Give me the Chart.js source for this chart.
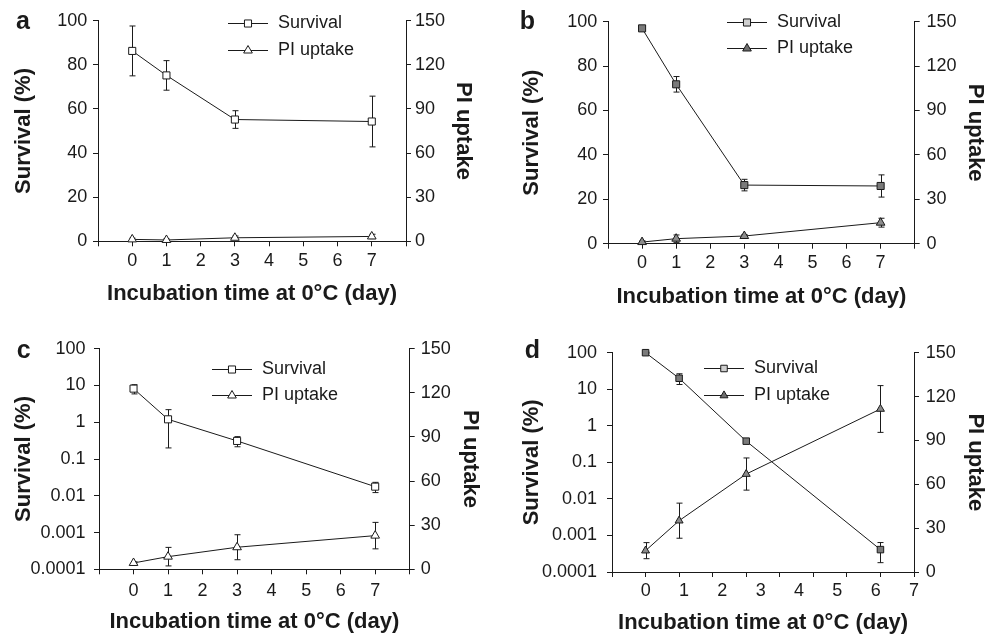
<!DOCTYPE html>
<html lang="en">
<head>
<meta charset="UTF-8">
<title>Survival and PI uptake at 0°C</title>
<script src="https://cdn.jsdelivr.net/npm/chart.js@4.4.0/dist/chart.umd.min.js"></script>
<style>
  body { margin: 0; background: #fff; }
  .wrap { position: relative; width: 986px; height: 636px; overflow: hidden; }
  canvas { position: absolute; }
</style>
</head>
<body>
<div class="wrap">
  <canvas id="pa" width="493" height="318" style="left:0;top:0"></canvas>
  <canvas id="pb" width="493" height="318" style="left:493px;top:0"></canvas>
  <canvas id="pc" width="493" height="318" style="left:0;top:318px"></canvas>
  <canvas id="pd" width="493" height="318" style="left:493px;top:318px"></canvas>
</div>
<script>
// days sampled (all panels)
const days = [0, 1, 3, 7];

// tick labels
const dayTicks = [0, 1, 2, 3, 4, 5, 6, 7];
const survLinTicks = [0, 20, 40, 60, 80, 100];
const survLogTicks = [0.0001, 0.001, 0.01, 0.1, 1, 10, 100];
const piTicks = [0, 30, 60, 90, 120, 150];

// panel a
const survA = [86.3, 75.2, 55.2, 54.3];
const survAErr = [11.3, 6.7, 4, 11.5];
const piA = [1.3, 0.9, 2.4, 3.3];
const piAErr = [0.8, 0.8, 1.2, 1.5];

// panel b
const survB = [97, 71.8, 26.4, 26];
const survBErr = [1, 3.5, 2.6, 5];
const piB = [1.1, 3.4, 5.2, 14.2];
const piBErr = [0.8, 2.5, 1, 3];

// panel c (log survival)
const survC = [8.2, 1.2, 0.31, 0.0177];
const survCErr = [2.3, 1.0, 0.095, 0.0055];
const piC = [4.3, 8.6, 15, 22.9];
const piCErr = [0.8, 6.3, 8.5, 9];

// panel d (log survival)
const survD = [100, 20, 0.38, 0.00041];
const survDErr = [3, 6.5, 0.03, 0.00023];
const piD = [14.6, 35.1, 67, 111.5];
const piDErr = [5.5, 12, 11, 16];

const ink = '#1a1a1a';
const family = '"Liberation Sans", Arial, Helvetica, sans-serif';
const tickFont = { family: family, size: 18 };
const titleFont = { family: family, size: 22, weight: 'bold', lineHeight: 1 };
const axisGrid = { drawOnChartArea: false, tickLength: 5, color: ink, tickColor: ink };
const axisBorder = { color: ink, width: 1 };

const pairs = (xs, ys) => xs.map((x, i) => ({ x: x, y: ys[i] }));

// vertical error bars with caps
const errorBars = {
  id: 'errorBars',
  beforeDatasetsDraw(chart) {
    const ctx = chart.ctx;
    chart.data.datasets.forEach((ds, i) => {
      const meta = chart.getDatasetMeta(i);
      const ys = chart.scales[ds.yAxisID];
      ctx.save();
      ctx.strokeStyle = ink;
      ctx.lineWidth = 1;
      meta.data.forEach((pt, j) => {
        const v = ds.data[j].y, e = ds.errors[j];
        const top = ys.getPixelForValue(v + e);
        const bot = ys.getPixelForValue(v - e);
        const x = Math.round(pt.x) + 0.5;
        ctx.beginPath();
        ctx.moveTo(x, top); ctx.lineTo(x, bot);
        ctx.moveTo(x - 3, top); ctx.lineTo(x + 3, top);
        ctx.moveTo(x - 3, bot); ctx.lineTo(x + 3, bot);
        ctx.stroke();
      });
      ctx.restore();
    });
  }
};

// legend drawn as line + marker + label, inside the plot
const lineLegend = {
  id: 'lineLegend',
  afterDraw(chart, args, opts) {
    const { ctx, chartArea } = chart;
    const x0 = chartArea.left + opts.x;
    const y0 = chartArea.top + opts.y;
    chart.data.datasets.forEach((ds, i) => {
      const y = Math.round(y0 + i * opts.gap) + 0.5;
      ctx.save();
      ctx.strokeStyle = ink;
      ctx.lineWidth = 1;
      ctx.beginPath();
      ctx.moveTo(x0, y); ctx.lineTo(x0 + 40, y);
      ctx.stroke();
      ctx.fillStyle = opts.fills[i];
      Chart.helpers.drawPoint(ctx, { pointStyle: ds.pointStyle, radius: ds.pointRadius, borderWidth: 1, rotation: 0 }, x0 + 20, y);
      ctx.fillStyle = ink;
      ctx.font = '18px ' + family;
      ctx.textBaseline = 'middle';
      ctx.textAlign = 'left';
      ctx.fillText(ds.label, x0 + 50, y);
      ctx.restore();
    });
  }
};

const panelLetter = {
  id: 'panelLetter',
  afterDraw(chart, args, opts) {
    const ctx = chart.ctx;
    ctx.save();
    ctx.fillStyle = ink;
    ctx.font = 'bold 25px ' + family;
    ctx.textBaseline = 'alphabetic';
    ctx.textAlign = 'left';
    ctx.fillText(opts.text, opts.x, opts.y);
    ctx.restore();
  }
};

function setTicks(list) {
  return s => { s.ticks = list.map(v => ({ value: v })); };
}

function buildChart(id, p) {
  const xPositions = [];
  for (let v = -1; v <= 8; v++) xPositions.push(v);
  const labelFn = v => dayTicks.includes(v) ? String(v) : '';
  const xTitle = { display: true, text: 'Incubation time at 0°C (day)', font: titleFont, color: ink, padding: { top: 0, bottom: p.xTitlePad } };

  const scales = {
    x: {
      type: 'linear', min: -1, max: 8, position: 'bottom', weight: 0,
      afterBuildTicks: setTicks(xPositions),
      ticks: { display: !p.shifted, padding: p.xTickPad, font: tickFont, color: ink, maxRotation: 0, autoSkip: false, callback: labelFn },
      grid: axisGrid, border: axisBorder,
      title: p.shifted ? { display: false } : xTitle,
      afterFit: s => { s.height = p.shifted ? 5 : p.bottom; }
    },
    y: {
      type: p.log ? 'logarithmic' : 'linear',
      min: p.log ? survLogTicks[0] : 0,
      max: 100,
      position: 'left',
      afterBuildTicks: setTicks(p.log ? survLogTicks : survLinTicks),
      ticks: { padding: p.yTickPad, font: tickFont, color: ink, autoSkip: false, callback: v => String(v) },
      grid: axisGrid, border: axisBorder,
      title: { display: true, text: 'Survival (%)', font: titleFont, color: ink, padding: { top: p.yTitlePad, bottom: 0 } },
      afterFit: s => { s.width = p.left; }
    },
    y2: {
      type: 'linear', min: 0, max: 150, position: 'right',
      afterBuildTicks: setTicks(piTicks),
      ticks: { padding: p.y2TickPad, font: tickFont, color: ink, autoSkip: false, callback: v => String(v) },
      grid: axisGrid, border: axisBorder,
      title: { display: true, text: 'PI uptake', font: titleFont, color: ink, padding: { top: p.y2TitlePad, bottom: 0 } },
      afterFit: s => { s.width = p.right; }
    }
  };

  if (p.shifted) {
    // day labels sit on their own evenly spread axis (as in the original figure)
    scales.x2 = {
      type: 'linear', min: p.labelMin, max: 7, position: 'bottom', weight: 1,
      afterBuildTicks: setTicks(dayTicks),
      ticks: { padding: p.xTickPad, font: tickFont, color: ink, maxRotation: 0, autoSkip: false, callback: labelFn },
      grid: { display: false, drawTicks: false },
      border: { display: false },
      title: xTitle,
      afterFit: s => { s.height = p.bottom - 5; }
    };
  }

  const common = { borderColor: ink, borderWidth: 1, pointBorderColor: ink, pointBorderWidth: 1, tension: 0, clip: false, xAxisID: 'x' };

  new Chart(document.getElementById(id), {
    type: 'line',
    data: {
      datasets: [
        Object.assign({}, common, {
          label: 'Survival', data: pairs(days, p.surv), errors: p.survErr, yAxisID: 'y',
          pointStyle: 'rect', pointRadius: p.radius, pointBackgroundColor: p.fill
        }),
        Object.assign({}, common, {
          label: 'PI uptake', data: pairs(days, p.pi), errors: p.piErr, yAxisID: 'y2',
          pointStyle: 'triangle', pointRadius: p.radius, pointBackgroundColor: p.fill2
        })
      ]
    },
    options: {
      responsive: false,
      animation: false,
      layout: { padding: { top: p.top, left: 0, right: 0, bottom: 0 } },
      scales: scales,
      plugins: {
        legend: { display: false },
        tooltip: { enabled: false },
        lineLegend: { x: p.legX, y: p.legY, gap: 26.7, fills: p.legFills },
        panelLetter: { text: p.letter, x: p.letX, y: p.letY }
      }
    },
    plugins: [errorBars, lineLegend, panelLetter]
  });
}

buildChart('pa', {
  letter: 'a', letX: 16, letY: 28.5, log: false,
  surv: survA, survErr: survAErr, pi: piA, piErr: piAErr,
  top: 20.7, left: 98, right: 87, bottom: 76.7,
  yTitlePad: 13, y2TitlePad: 19, xTitlePad: 13, yTickPad: 5.7, y2TickPad: 4, xTickPad: 4,
  radius: 5, fill: '#ffffff', fill2: '#ffffff', legFills: ['#ffffff', '#ffffff'],
  legX: 130, legY: 2.6
});

buildChart('pb', {
  letter: 'b', letX: 26.7, letY: 28.5, log: false,
  surv: survB, survErr: survBErr, pi: piB, piErr: piBErr,
  top: 21.7, left: 115, right: 71.3, bottom: 74.3,
  yTitlePad: 28, y2TitlePad: 0.3, xTitlePad: 10.3, yTickPad: 5.7, y2TickPad: 6.7, xTickPad: 3.8,
  radius: 5, fill: '#7a7a7a', fill2: '#8c8c8c', legFills: ['#cfcfcf', '#6e6e6e'],
  legX: 119, legY: 0
});

buildChart('pc', {
  letter: 'c', letX: 16.7, letY: 40, log: true,
  surv: survC, survErr: survCErr, pi: piC, piErr: piCErr,
  top: 30.7, left: 99, right: 83.3, bottom: 66.7,
  yTitlePad: 13, y2TitlePad: 12, xTitlePad: 3, yTickPad: 8.5, y2TickPad: 6, xTickPad: 5.6,
  radius: 5, fill: '#ffffff', fill2: '#ffffff', legFills: ['#ffffff', '#ffffff'],
  legX: 113, legY: 20
});

buildChart('pd', {
  letter: 'd', letX: 31.7, letY: 40, log: true, shifted: true, labelMin: -0.88,
  surv: survD, survErr: survDErr, pi: piD, piErr: piDErr,
  top: 34.7, left: 119, right: 72, bottom: 64,
  yTitlePad: 28.3, y2TitlePad: 0.3, xTitlePad: 2, yTickPad: 10, y2TickPad: 6.7, xTickPad: 3.5,
  radius: 4.6, fill: '#7a7a7a', fill2: '#8c8c8c', legFills: ['#cfcfcf', '#6e6e6e'],
  legX: 92, legY: 15.3
});
</script>
</body>
</html>
